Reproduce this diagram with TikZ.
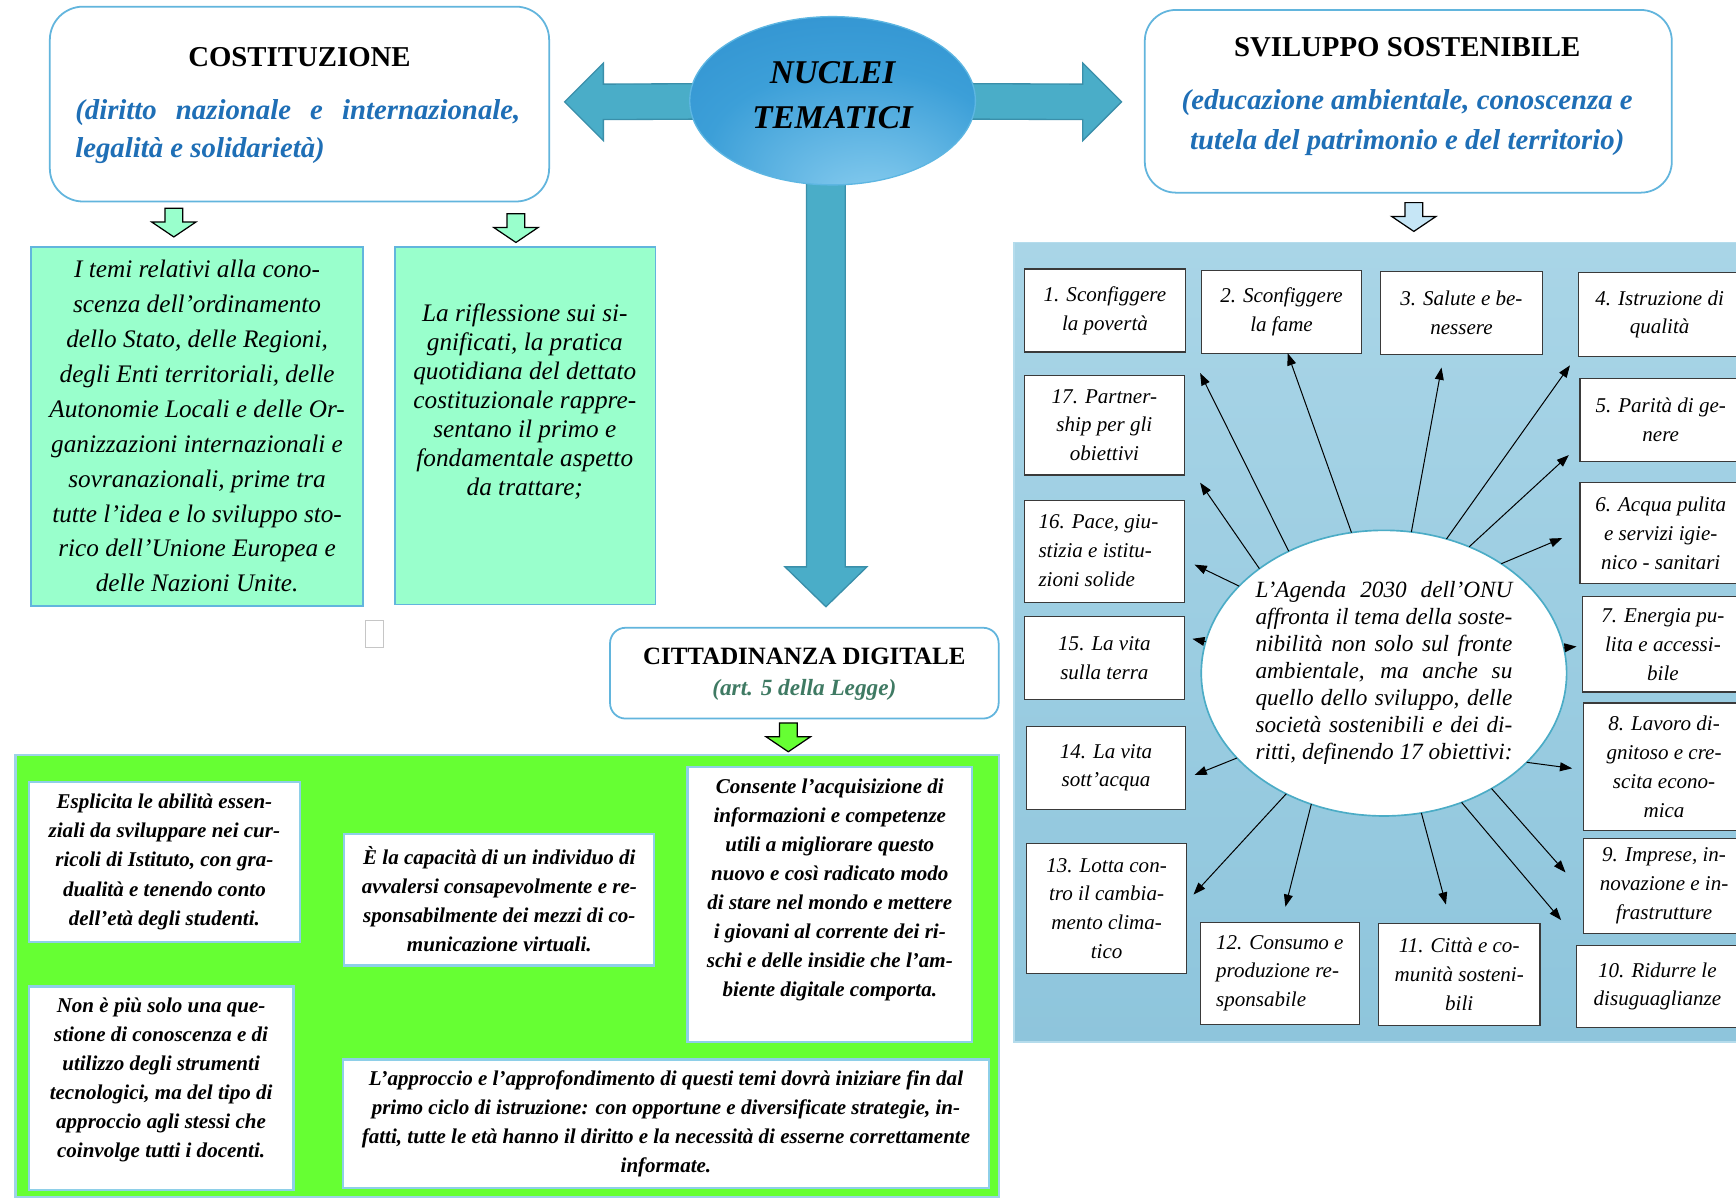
\documentclass[tikz,border=0pt]{standalone}
\usepackage{fontspec}
\setmainfont{Liberation Serif}
\usetikzlibrary{shapes.geometric,arrows.meta,calc}
\pgfdeclarelayer{back}
\pgfsetlayers{back,main}

\definecolor{bordblue}{HTML}{62B5DD}
\definecolor{arrowblue}{HTML}{4AADC8}
\definecolor{arrowedge}{HTML}{3A8FAA}
\definecolor{mint}{HTML}{99FFCC}
\definecolor{lime}{HTML}{66FF33}
\definecolor{greenedge}{HTML}{9ED3E8}
\definecolor{sdgtop}{HTML}{A9D5E7}
\definecolor{sdgbot}{HTML}{8EC5DC}
\definecolor{blueedge}{HTML}{B5DCEC}
\definecolor{subblue}{HTML}{1F6FB6}
\definecolor{artgreen}{HTML}{3F7A63}
\definecolor{greyedge}{HTML}{3A3A3A}
\definecolor{whiteedge}{HTML}{8ECFE8}
\definecolor{agendaedge}{HTML}{4BACC6}
\definecolor{nucdark}{HTML}{2A8ACB}
\definecolor{nucmid}{HTML}{3C9FD8}
\definecolor{nuclight}{HTML}{8FD1F1}
\definecolor{nucrim}{HTML}{5DB6E2}
\definecolor{arrowlblue}{HTML}{C6E6F6}

\pgfdeclareradialshading{nucshade}{\pgfpoint{8bp}{-34bp}}{color(0bp)=(nuclight); color(26bp)=(nucmid); color(50bp)=(nucdark)}

\newcommand\fTitle{\fontsize{26}{30}\selectfont\bfseries}
\newcommand\fSub{\fontsize{26}{34}\selectfont\bfseries\itshape}
\newcommand\fNuc{\fontsize{30}{41}\selectfont\bfseries\itshape}
\newcommand\fMintA{\fontsize{22.8}{31.5}\selectfont\itshape}
\newcommand\fMintB{\fontsize{22.8}{26.2}\selectfont\itshape}
\newcommand\fCitt{\fontsize{22.5}{26}\selectfont\bfseries}
\newcommand\fArt{\fontsize{21}{26}\selectfont\bfseries\itshape}
\newcommand\fDig{\fontsize{19}{26.2}\selectfont\bfseries\itshape}
\newcommand\fSdg{\fontsize{19}{26}\selectfont\itshape}
\newcommand\fAg{\fontsize{21}{24.4}\selectfont\itshape}

\tikzset{
  every node/.style={inner sep=0pt, outer sep=0pt},
  roundbox/.style={draw=bordblue, line width=1.6pt, fill=white, rounded corners=#1},
  roundbox/.default=20,
  mintbox/.style={draw=bordblue, line width=1.6pt, fill=mint},
  wbox/.style={draw=whiteedge, line width=2pt, fill=white},
  digtext/.style={align=center, font=\fDig},
  sdgbox/.style={draw=greyedge, line width=1.1pt, fill=white, align=center, font=\fSdg},
  sdgarrow/.style={-{Triangle[length=11pt,width=8pt]}, line width=0.9pt, black},
  bigarrow/.style={fill=arrowblue, draw=arrowedge, line width=1.2pt, line join=miter},
  smallarr/.pic={\path[draw=black, line width=1.1pt, line join=miter, pic actions]
     (-8,0) -- (8,0) -- (8,12.5) -- (20,12.5) -- (0,26) -- (-20,12.5) -- (-8,12.5) -- cycle;}
}

\begin{document}
\begin{tikzpicture}[x=1pt,y=-1pt]
\begin{pgfonlayer}{back}
\fill[white] (0,0) rectangle (1568,1082);
\end{pgfonlayer}
\useasboundingbox (0,0) rectangle (1568,1082);

% ---------- COSTITUZIONE ----------
\node[roundbox=30, minimum width=451, minimum height=176] (cost) at (270.5,94) {};
\node[anchor=base, font=\fTitle] (costT) at (270.5,60) {COSTITUZIONE};
\node[anchor=base west, font=\fSub, text=subblue] (costS1) at (68,108)
  {\makebox[402pt][s]{(diritto nazionale e internazionale,}};
\node[anchor=base west, font=\fSub, text=subblue] (costS2) at (68,142) {legalità e solidarietà)};

% ---------- SVILUPPO SOSTENIBILE ----------
\node[roundbox=28, minimum width=476, minimum height=165] (svil) at (1272,91.5) {};
\node[anchor=base, font=\fTitle] (svilT) at (1271,51) {SVILUPPO SOSTENIBILE};
\node[anchor=base, font=\fSub, text=subblue] (svilS1) at (1271,99) {(educazione ambientale, conoscenza e};
\node[anchor=base, font=\fSub, text=subblue] (svilS2) at (1271,135) {tutela del patrimonio e del territorio)};

% ---------- NUCLEI TEMATICI ----------
\node[ellipse, shade, shading=nucshade, draw=nucrim, line width=1.2pt,
      minimum width=258, minimum height=152] (nuc) at (752,91) {};
\node[align=center, font=\fNuc] (nucT) at (752,86) {NUCLEI\\TEMATICI};

\coordinate (ltip) at (510,92);
\coordinate (rtip) at (1013,92);
\coordinate (dtip) at (746,548);
\begin{pgfonlayer}{back}
\filldraw[bigarrow] ($(nuc.center)+(0,-16)$) -- ($(ltip)+(35,-16)$) -- ($(ltip)+(35,-35)$) -- (ltip)
   -- ($(ltip)+(35,35)$) -- ($(ltip)+(35,16)$) -- ($(nuc.center)+(0,16)$) -- cycle;
\filldraw[bigarrow] ($(nuc.center)+(0,-16)$) -- ($(rtip)+(-35,-16)$) -- ($(rtip)+(-35,-35)$) -- (rtip)
   -- ($(rtip)+(-35,35)$) -- ($(rtip)+(-35,16)$) -- ($(nuc.center)+(0,16)$) -- cycle;
\filldraw[bigarrow] ($(dtip|-nuc.center)+(-17.5,0)$) -- ($(dtip)+(-17.5,-36)$) -- ($(dtip)+(-37,-36)$) -- (dtip)
   -- ($(dtip)+(37,-36)$) -- ($(dtip)+(17.5,-36)$) -- ($(dtip|-nuc.center)+(17.5,0)$) -- cycle;
\end{pgfonlayer}

% ---------- small block arrows ----------
\pic[fill=mint] at (157,188) {smallarr};
\pic[fill=mint] at (466,193) {smallarr};
\pic[fill=arrowlblue] at (1277,183) {smallarr};
\pic[fill=lime] at (712,653) {smallarr};

% ---------- mint boxes ----------
\node[mintbox, minimum width=300, minimum height=324, align=center, font=\fMintA] (m1) at (178,385)
 {I temi relativi alla cono-\\scenza dell’ordinamento\\dello Stato, delle Regioni,\\degli Enti territoriali, delle\\Autonomie Locali e delle Or-\\ganizzazioni internazionali e\\sovranazionali, prime tra\\tutte l’idea e lo sviluppo sto-\\rico dell’Unione Europea e\\delle Nazioni Unite.};
\node[mintbox, minimum width=235, minimum height=323] (m2) at (474.5,384.5) {};
\node[align=center, font=\fMintB] (m2T) at (474,362.5)
 {La riflessione sui si-\\gnificati, la pratica\\quotidiana del dettato\\costituzionale rappre-\\sentano il primo e\\fondamentale aspetto\\da trattare;};
\node[draw=gray!45, line width=0.7pt, minimum width=16, minimum height=25, anchor=north west] (tiny) at (330,560) {};

% ---------- CITTADINANZA DIGITALE ----------
\node[roundbox=14, minimum width=351, minimum height=82] (citt) at (726.5,608) {};
\node[anchor=base, font=\fCitt] (cittT) at (726.5,600) {CITTADINANZA DIGITALE};
\node[anchor=base, font=\fArt, text=artgreen] (cittS) at (726.5,628) {(art. 5 della Legge)};

\node[draw=greenedge, line width=2pt, fill=lime, minimum width=888, minimum height=399, anchor=north west] (digarea) at (14,682) {};
\node[wbox, minimum width=245, minimum height=145, digtext] (dA) at (148.5,778.5)
 {Esplicita le abilità essen-\\ziali da sviluppare nei cur-\\ricoli di Istituto, con gra-\\dualità e tenendo conto\\dell’età degli studenti.};
\node[wbox, minimum width=280, minimum height=119, digtext] (dB) at (451,812.5)
 {È la capacità di un individuo di\\avvalersi consapevolmente e re-\\sponsabilmente dei mezzi di co-\\municazione virtuali.};
\node[wbox, minimum width=257, minimum height=248] (dC) at (749.5,817) {};
\node[digtext] (dCT) at (749.5,804)
 {Consente l’acquisizione di\\informazioni e competenze\\utili a migliorare questo\\nuovo e così radicato modo\\di stare nel mondo e mettere\\i giovani al corrente dei ri-\\schi e delle insidie che l’am-\\biente digitale comporta.};
\node[wbox, minimum width=239, minimum height=184] (dD) at (145.5,983) {};
\node[digtext] (dDT) at (145.5,975.5)
 {Non è più solo una que-\\stione di conoscenza e di\\utilizzo degli strumenti\\tecnologici, ma del tipo di\\approccio agli stessi che\\coinvolge tutti i docenti.};
\node[wbox, minimum width=583, minimum height=116, digtext] (dE) at (601.5,1015)
 {L’approccio e l’approfondimento di questi temi dovrà iniziare fin dal\\primo ciclo di istruzione: con opportune e diversificate strategie, in-\\fatti, tutte le età hanno il diritto e la necessità di esserne correttamente\\informate.};

% ---------- SDG area ----------
\node[draw=blueedge, line width=1.5pt, top color=sdgtop, bottom color=sdgbot,
      minimum width=670, minimum height=722, anchor=north west] (sdgarea) at (916,219) {};

\node[ellipse, draw=agendaedge, line width=1.5pt, fill=white, minimum width=330, minimum height=258,
      font=\fAg, align=left] (agenda) at (1250,608)
 {\makebox[232pt][s]{L’Agenda 2030 dell’ONU}\\
  \makebox[232pt][s]{affronta il tema della soste-}\\
  \makebox[232pt][s]{nibilità non solo sul fronte}\\
  \makebox[232pt][s]{ambientale, ma anche su}\\
  \makebox[232pt][s]{quello dello sviluppo, delle}\\
  \makebox[232pt][s]{società sostenibili e dei di-}\\
  \makebox[232pt][l]{ritti, definendo 17 obiettivi:}};

\node[sdgbox, minimum width=146, minimum height=75] (g1) at (998,280.5) {1. Sconfiggere\\la povertà};
\node[sdgbox, minimum width=145, minimum height=75] (g2) at (1157.5,281.5) {2. Sconfiggere\\la fame};
\node[sdgbox, minimum width=146, minimum height=75] (g3) at (1320,282.5) {3. Salute e be-\\nessere};
\node[sdgbox, minimum width=146, minimum height=76] (g4) at (1499,284) {4. Istruzione di\\qualità};
\node[sdgbox, minimum width=146, minimum height=75] (g5) at (1500,379.5) {5. Parità di ge-\\nere};
\node[sdgbox, minimum width=146, minimum height=91] (g6) at (1500,481.5) {6. Acqua pulita\\e servizi igie-\\nico - sanitari};
\node[sdgbox, minimum width=146, minimum height=86] (g7) at (1502,582) {7. Energia pu-\\lita e accessi-\\bile};
\node[sdgbox, minimum width=146, minimum height=115] (g8) at (1503,692.5) {8. Lavoro di-\\gnitoso e cre-\\scita econo-\\mica};
\node[sdgbox, minimum width=146, minimum height=86] (g9) at (1503,800) {9. Imprese, in-\\novazione e in-\\frastrutture};
\node[sdgbox, minimum width=146, minimum height=74] (g10) at (1497,891) {10. Ridurre le\\disuguaglianze};
\node[sdgbox, minimum width=146, minimum height=92] (g11) at (1318,880) {11. Città e co-\\munità sosteni-\\bili};
\node[sdgbox, minimum width=144, minimum height=92, align=left] (g12) at (1156,879) {12. Consumo e\\produzione re-\\sponsabile};
\node[sdgbox, minimum width=145, minimum height=117] (g13) at (999.5,820.5) {13. Lotta con-\\tro il cambia-\\mento clima-\\tico};
\node[sdgbox, minimum width=144, minimum height=75] (g14) at (999,693.5) {14. La vita\\sott’acqua};
\node[sdgbox, minimum width=145, minimum height=75] (g15) at (997.5,594.5) {15. La vita\\sulla terra};
\node[sdgbox, minimum width=145, minimum height=92] (g16) at (997.5,498) {};
\node[anchor=west, align=left, font=\fSdg] (g16T) at (938,497.5) {16. Pace, giu-\\stizia e istitu-\\zioni solide};
\node[sdgbox, minimum width=145, minimum height=90] (g17) at (997.5,384) {17. Partner-\\ship per gli\\obiettivi};

\coordinate (t1) at (1084,337);
\coordinate (t2) at (1163,319);
\coordinate (t3) at (1302,332);
\coordinate (t4) at (1418,330);
\coordinate (t5) at (1417,411);
\coordinate (t6) at (1411,486);
\coordinate (t7) at (1424,584);
\coordinate (t8) at (1420,694);
\coordinate (t9) at (1414,788);
\coordinate (t10) at (1410,831);
\coordinate (t11) at (1306,817);
\coordinate (t12) at (1161,819);
\coordinate (t13) at (1078,808);
\coordinate (t14) at (1079,700);
\coordinate (t15) at (1077,577);
\coordinate (t16) at (1079,510);
\coordinate (t17) at (1084,436);

\draw[sdgarrow] (agenda.128) -- (t1);
\draw[sdgarrow] (agenda.103) -- (t2);
\draw[sdgarrow] (agenda.79) -- (t3);
\draw[sdgarrow] (agenda.65) -- (t4);
\draw[sdgarrow] (agenda.56) -- (t5);
\draw[sdgarrow] (agenda.43) -- (t6);
\draw[sdgarrow] (agenda.8) -- (t7);
\draw[sdgarrow] (agenda.-32) -- (t8);
\draw[sdgarrow] (agenda.-47) -- (t9);
\draw[sdgarrow] (agenda.-59) -- (t10);
\draw[sdgarrow] (agenda.-75) -- (t11);
\draw[sdgarrow] (agenda.-119) -- (t12);
\draw[sdgarrow] (agenda.-129) -- (t13);
\draw[sdgarrow] (agenda.-150) -- (t14);
\draw[sdgarrow] (agenda.170) -- (t15);
\draw[sdgarrow] (agenda.149) -- (t16);
\draw[sdgarrow] (agenda.140) -- (t17);
\end{tikzpicture}
\end{document}
